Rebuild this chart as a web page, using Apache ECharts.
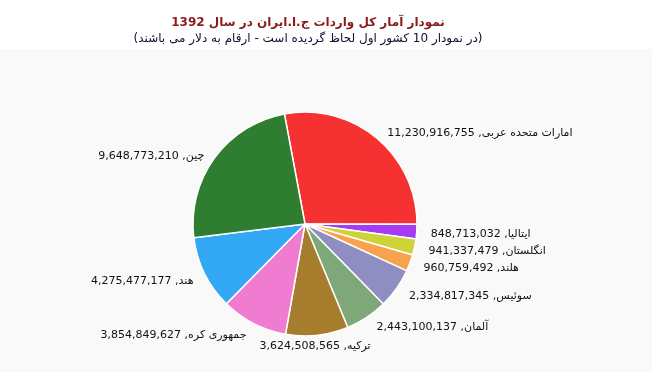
<!DOCTYPE html>
<html>
<head>
<meta charset="utf-8">
<script src="https://cdn.jsdelivr.net/npm/echarts@6/dist/echarts.min.js"></script>
<style>html,body{margin:0;padding:0;background:#fff}#c{width:652px;height:372px}</style>
</head>
<body>
<div id="c"></div>
<script>
var titleText = 'نمودار آمار کل واردات ج.ا.ایران در سال 1392';
var subtitleText = '(در نمودار 10 کشور اول لحاظ گردیده است - ارقام به دلار می باشند)';
var countries = ['امارات متحده عربی', 'ایتالیا', 'انگلستان', 'هلند', 'سوئیس', 'آلمان', 'ترکیه', 'جمهوری کره', 'هند', 'چین'];
var values = [11230916755, 848713032, 941337479, 960759492, 2334817345, 2443100137, 3624508565, 3854849627, 4275477177, 9648773210];
var colors = ['#F53131', '#A63BF2', '#CDD236', '#F6A24E', '#8E8EC2', '#7FA87A', '#A67C2D', '#F07CD2', '#33A8F5', '#2E7D30'];

var chart = echarts.init(document.getElementById('c'), null, {renderer: 'canvas'});
var data = countries.map(function (n, i) {
  return {name: n, value: values[i], itemStyle: {color: colors[i]}};
});
chart.setOption({
  animation: false,
  backgroundColor: '#fff',
  graphic: [{type: 'rect', shape: {x: 0, y: 49, width: 652, height: 323}, style: {fill: '#f9f9f9'}, z: -10, silent: true}],
  title: {
    text: titleText,
    subtext: subtitleText,
    left: 303,
    textAlign: 'center',
    top: 12,
    itemGap: 4,
    textStyle: {fontFamily: 'DejaVu Sans', fontSize: 12, fontWeight: 'bold', color: '#8B1A1A'},
    subtextStyle: {fontFamily: 'DejaVu Sans', fontSize: 12, color: '#101030'}
  },
  series: [{
    type: 'pie',
    center: [305, 224],
    radius: 112,
    startAngle: 100.6,
    clockwise: true,
    avoidLabelOverlap: false,
    data: data,
    itemStyle: {borderColor: '#fff', borderWidth: 1.5},
    label: {
      show: true,
      position: 'outside',
      fontFamily: 'DejaVu Sans',
      fontSize: 11,
      color: '#111',
      formatter: function (p) { return p.name + ', ' + p.value.toLocaleString('en-US'); }
    },
    labelLine: {show: false, length: 9, length2: 0},
    labelLayout: function (p) {
      var i = p.dataIndex;
      if (i === 6) return {align: 'center', dx: -8, dy: 2};
      if (i >= 7) return {dy: 4, dx: 2};
      return {dy: 2};
    }
  }]
});
</script>
</body>
</html>
